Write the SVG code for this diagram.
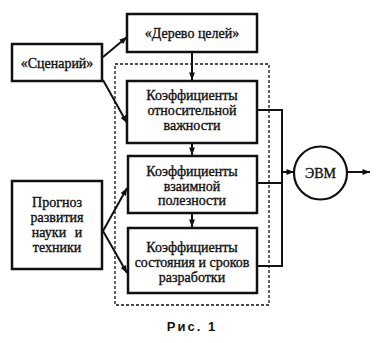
<svg xmlns="http://www.w3.org/2000/svg" width="382" height="343" viewBox="0 0 382 343">
<style>
.box{fill:#fff;stroke:#111;stroke-width:2.5}
.t{font-family:"Liberation Serif","Times New Roman",serif;font-size:14px;fill:#111;stroke:#111;stroke-width:0.35;text-anchor:middle}
.c{fill:none;stroke:#111;stroke-width:2}
.dash{fill:none;stroke:#111;stroke-width:1.3;stroke-dasharray:3,2}
.cap{font-family:"Liberation Sans",Arial,sans-serif;font-size:13px;font-weight:bold;fill:#111;text-anchor:middle;letter-spacing:2px}
</style>
<defs>
<marker id="a" viewBox="0 0 10 8" refX="10" refY="4" markerWidth="8" markerHeight="6" orient="auto" markerUnits="userSpaceOnUse">
<path d="M0,0 L10,4 L0,8 Z" fill="#111"/>
</marker>
</defs>
<rect class="dash" x="115" y="64" width="154" height="241"/>
<g id="connectors">
<line class="c" x1="103" y1="57" x2="127" y2="37" marker-end="url(#a)"/>
<line class="c" x1="103" y1="80" x2="127" y2="123" marker-end="url(#a)"/>
<line class="c" x1="103" y1="231" x2="127" y2="188" marker-end="url(#a)"/>
<line class="c" x1="103" y1="231" x2="127" y2="273" marker-end="url(#a)"/>
<line class="c" x1="192" y1="52" x2="192" y2="80" marker-end="url(#a)"/>
<line class="c" x1="192" y1="143" x2="192" y2="155" marker-end="url(#a)"/>
<line class="c" x1="192" y1="213" x2="192" y2="227" marker-end="url(#a)"/>
<polyline class="c" points="257,110 282,110 282,266 257,266"/>
<line class="c" x1="257" y1="183" x2="282" y2="183"/>
<line class="c" x1="282" y1="172" x2="294" y2="172" marker-end="url(#a)"/>
<line class="c" x1="347" y1="172" x2="370" y2="172" marker-end="url(#a)"/>
</g>
<g id="derevo">
<rect class="box" x="127" y="14" width="130" height="38"/>
<text class="t" x="192" y="38">«Дерево целей»</text>
</g>
<g id="scenariy">
<rect class="box" x="12" y="44" width="90" height="37"/>
<text class="t" x="57" y="68">«Сценарий»</text>
</g>
<g id="prognoz">
<rect class="box" x="12" y="181" width="90" height="88"/>
<text class="t" x="57" y="207">Прогноз</text>
<text class="t" x="57" y="222">развития</text>
<text class="t" x="57" y="237" word-spacing="5">науки и</text>
<text class="t" x="57" y="252">техники</text>
</g>
<g id="k1">
<rect class="box" x="127" y="81" width="130" height="62"/>
<text class="t" x="192" y="100">Коэффициенты</text>
<text class="t" x="192" y="115">относительной</text>
<text class="t" x="192" y="130">важности</text>
</g>
<g id="k2">
<rect class="box" x="128" y="156" width="129" height="57"/>
<text class="t" x="192" y="176">Коэффициенты</text>
<text class="t" x="192" y="190.5">взаимной</text>
<text class="t" x="192" y="205">полезности</text>
</g>
<g id="k3">
<rect class="box" x="128" y="228" width="129" height="65"/>
<text class="t" x="192" y="252">Коэффициенты</text>
<text class="t" x="192" y="267">состояния и сроков</text>
<text class="t" x="192" y="282">разработки</text>
</g>
<g id="evm">
<circle cx="320.5" cy="173" r="26.5" fill="#fff" stroke="#111" stroke-width="2.2"/>
<text class="t" x="320.5" y="178">ЭВМ</text>
</g>
<text class="cap" x="192" y="331">Рис. 1</text>
</svg>
